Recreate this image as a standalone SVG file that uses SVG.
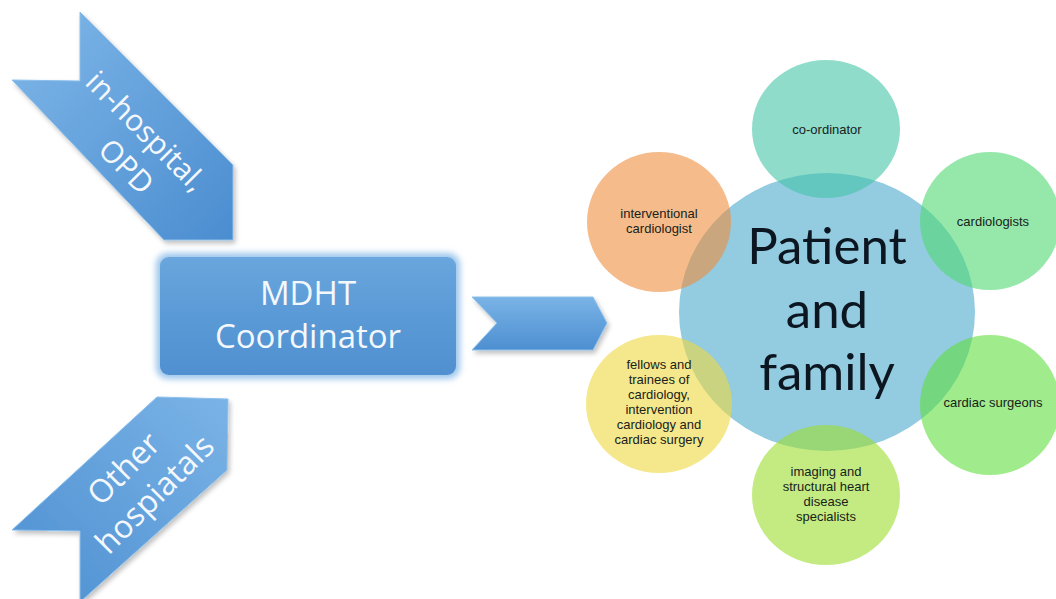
<svg xmlns="http://www.w3.org/2000/svg" width="1056" height="599" viewBox="0 0 1056 599">
  <style>
    .arrow { stroke: #8cc0ec; stroke-width: 1; }
    .wt { font-family: "Open Sans", "Liberation Sans", sans-serif; fill: #f4f8fc; text-anchor: middle; }
    .lbl { font-family: "Liberation Sans", Arial, sans-serif; font-size: 13px; fill: #18221a; text-anchor: middle; }
    .big { font-family: Lato, "Liberation Sans", sans-serif; font-size: 51px; fill: #0c1620; text-anchor: middle; }
    .sat { opacity: 0.6; }
  </style>
  <defs>
    <linearGradient id="gTop" x1="0" y1="0" x2="1" y2="1">
      <stop offset="0" stop-color="#7fb7e8"/>
      <stop offset="1" stop-color="#4b8dd0"/>
    </linearGradient>
    <linearGradient id="gBot" x1="0" y1="1" x2="1" y2="0">
      <stop offset="0" stop-color="#4d8fd1"/>
      <stop offset="1" stop-color="#7ab3e6"/>
    </linearGradient>
    <linearGradient id="gBox" x1="0" y1="0" x2="0" y2="1">
      <stop offset="0" stop-color="#6aa6dd"/>
      <stop offset="0.5" stop-color="#5a9ad6"/>
      <stop offset="1" stop-color="#5190d0"/>
    </linearGradient>
    <linearGradient id="gChev" x1="0" y1="0" x2="0" y2="1">
      <stop offset="0" stop-color="#7ab3e6"/>
      <stop offset="1" stop-color="#4d8fd1"/>
    </linearGradient>
    <filter id="glow" x="-10%" y="-20%" width="120%" height="140%">
      <feGaussianBlur stdDeviation="3"/>
    </filter>
    <filter id="shadow" x="-10%" y="-10%" width="130%" height="130%">
      <feGaussianBlur in="SourceAlpha" stdDeviation="2.5"/>
      <feOffset dx="2" dy="3" result="b"/>
      <feComponentTransfer><feFuncA type="linear" slope="0.25"/></feComponentTransfer>
      <feMerge><feMergeNode/><feMergeNode in="SourceGraphic"/></feMerge>
    </filter>
  </defs>

  <rect width="1056" height="599" fill="#ffffff"/>

  <g id="node-inhospital">
    <polygon class="arrow" filter="url(#shadow)" fill="url(#gTop)" points="12,80 80,81 80,12 233,165 233,240 164,240"/>
    <g transform="rotate(45)">
      <text class="wt" font-size="30" x="196" y="0">in-hospital,</text>
      <text class="wt" font-size="30" x="207" y="39">OPD</text>
    </g>
  </g>

  <g id="node-otherhospitals">
    <polygon class="arrow" filter="url(#shadow)" fill="url(#gBot)" points="12,530 157,397 228,399 227,470 80,602 80,531"/>
    <g transform="rotate(-45)">
      <text class="wt" font-size="32" x="-244" y="430">Other</text>
      <text class="wt" font-size="32" x="-240" y="470">hospiatals</text>
    </g>
  </g>

  <g id="node-mdht">
    <rect x="156" y="253" width="304" height="126" rx="12" fill="#9cc6ec" filter="url(#glow)"/>
    <rect x="160" y="257" width="296" height="118" rx="9" fill="url(#gBox)"/>
    <text class="wt" font-size="33" x="308" y="305">MDHT</text>
    <text class="wt" font-size="33" x="308" y="348">Coordinator</text>
  </g>

  <g id="connectors">
    <polygon class="arrow" filter="url(#shadow)" fill="url(#gChev)" points="472,297 593,297 607,323 593,350 472,350 497,323"/>
  </g>

  <g id="node-patient">
    <ellipse cx="827" cy="312" rx="148" ry="139" fill="#93cbe1"/>
  </g>

  <g id="node-coordinator">
    <ellipse class="sat" cx="826" cy="129" rx="74" ry="69" fill="#44c5a8"/>
    <text class="lbl" x="827" y="134">co-ordinator</text>
  </g>

  <g id="node-interventional">
    <ellipse class="sat" cx="659" cy="222" rx="72" ry="70" fill="#ee8e3c"/>
    <text class="lbl" x="659" y="218">interventional<tspan x="659" dy="15">cardiologist</tspan></text>
  </g>

  <g id="node-cardiologists">
    <ellipse class="sat" cx="990" cy="221" rx="70" ry="69" fill="#50d971"/>
    <text class="lbl" x="993" y="226">cardiologists</text>
  </g>

  <g id="node-surgeons">
    <ellipse class="sat" cx="990" cy="405" rx="70" ry="70" fill="#61de3f"/>
    <text class="lbl" x="993" y="407">cardiac surgeons</text>
  </g>

  <g id="node-imaging">
    <ellipse class="sat" cx="826" cy="495" rx="74" ry="70" fill="#9bde2f"/>
    <text class="lbl" x="826" y="476">imaging and<tspan x="826" dy="15">structural heart</tspan><tspan x="826" dy="15">disease</tspan><tspan x="826" dy="15">specialists</tspan></text>
  </g>

  <g id="node-fellows">
    <ellipse class="sat" cx="659" cy="404" rx="73" ry="69" fill="#eed93f"/>
    <text class="lbl" x="659" y="369">fellows and<tspan x="659" dy="15">trainees of</tspan><tspan x="659" dy="15">cardiology,</tspan><tspan x="659" dy="15">intervention</tspan><tspan x="659" dy="15">cardiology and</tspan><tspan x="659" dy="15">cardiac surgery</tspan></text>
  </g>

  <g id="center-text">
    <text class="big" x="827" y="264">Patient<tspan x="827" dy="64">and</tspan><tspan x="827" dy="62">family</tspan></text>
  </g>
</svg>
